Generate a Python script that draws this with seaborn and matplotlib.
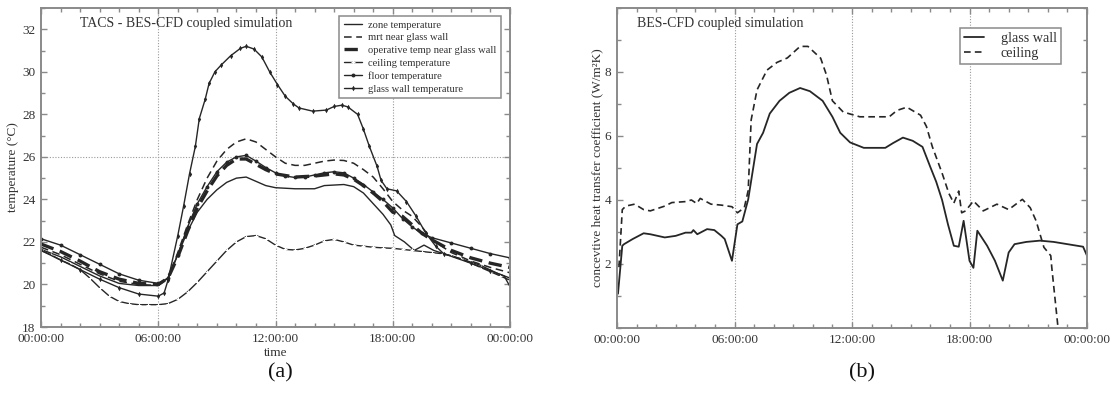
import matplotlib
matplotlib.use("Agg")
import matplotlib.pyplot as plt
import seaborn as sns

# ---- panel (a): temperatures, hours since midnight ----
zone_h = [0, 1, 2, 3, 4, 5, 6, 6.5, 7, 7.5, 8, 8.5, 9, 9.5, 10, 10.5, 11, 11.5, 12, 13, 14,
          14.5, 15.5, 16, 16.5, 17, 17.5, 17.9, 18.1, 18.6, 19.1, 19.6, 20.1, 20.6, 21.5,
          22.5, 23.4, 23.7, 24]
zone_t = [21.65, 21.3, 20.85, 20.4, 20.05, 19.95, 19.95, 20.3, 21.4, 22.5, 23.4, 24.0, 24.45,
          24.8, 25.0, 25.05, 24.85, 24.65, 24.55, 24.5, 24.5, 24.65, 24.7, 24.6, 24.3, 23.8,
          23.3, 22.8, 22.3, 22.0, 21.6, 21.85, 21.6, 21.45, 21.2, 20.9, 20.5, 20.4, 19.9]

mrt_h = [0, 1, 2, 3, 4, 5, 6, 6.5, 7, 7.5, 8, 8.5, 9, 9.5, 10, 10.5, 11, 11.5, 12, 12.5, 13,
         13.5, 14, 14.5, 15, 15.5, 16, 16.5, 17, 17.5, 18, 18.5, 19, 19.5, 20, 21, 22, 23, 24]
mrt_t = [21.75, 21.4, 20.95, 20.5, 20.15, 20.0, 19.95, 20.3, 21.5, 22.8, 24.0, 25.0, 25.8,
         26.35, 26.7, 26.85, 26.7, 26.35, 26.0, 25.7, 25.6, 25.6, 25.7, 25.8, 25.85, 25.83,
         25.7, 25.4, 25.05, 24.5, 23.9, 23.5, 23.2, 22.7, 22.1, 21.5, 21.1, 20.8, 20.55]

oper_h = [0, 1, 2, 3, 4, 5, 6, 6.5, 7, 7.5, 8, 8.5, 9, 9.5, 10, 10.5, 11, 11.5, 12, 13, 14,
          15, 15.5, 16, 16.5, 17, 17.5, 18, 18.5, 19, 19.5, 20, 21, 22, 23, 24]
oper_t = [21.9, 21.55, 21.1, 20.6, 20.25, 20.05, 20.0, 20.3, 21.3, 22.5, 23.6, 24.4, 25.1,
          25.6, 25.9, 25.9, 25.65, 25.4, 25.2, 25.05, 25.1, 25.2, 25.15, 24.95, 24.65, 24.3,
          23.9, 23.4, 23.2, 22.8, 22.4, 22.1, 21.6, 21.25, 21.0, 20.8]

ceil_h = [0, 0.5, 1, 1.5, 2, 2.5, 3, 3.5, 4, 4.5, 5, 5.5, 6, 6.5, 7, 7.5, 8, 8.5, 9, 9.5, 10,
          10.5, 11, 11.5, 12, 12.5, 13, 13.5, 14, 14.5, 15, 15.5, 16, 16.5, 17, 17.5, 18,
          18.5, 19, 19.5, 20, 20.5, 21, 21.5, 22, 22.5, 23, 23.5, 24]
ceil_t = [21.6, 21.4, 21.15, 20.95, 20.7, 20.3, 19.85, 19.45, 19.2, 19.1, 19.05, 19.05,
          19.05, 19.1, 19.3, 19.65, 20.1, 20.6, 21.1, 21.6, 22.0, 22.25, 22.3, 22.15, 21.85,
          21.65, 21.62, 21.7, 21.85, 22.05, 22.12, 22.0, 21.85, 21.8, 21.75, 21.72, 21.7,
          21.65, 21.6, 21.55, 21.5, 21.45, 21.35, 21.2, 21.0, 20.8, 20.6, 20.4, 20.2]

floor_h = [0, 1, 2, 3, 4, 5, 6, 6.5, 7, 7.5, 8, 8.5, 9, 9.5, 10, 10.5, 11, 11.5, 12, 12.5, 13,
           13.5, 14, 14.5, 15, 15.5, 16, 16.5, 17, 17.5, 18, 18.5, 19, 19.5, 20, 21, 22, 23, 24]
floor_t = [22.15, 21.85, 21.4, 20.95, 20.5, 20.2, 20.05, 20.3, 21.4, 22.7, 23.8, 24.6, 25.3,
           25.75, 26.0, 26.07, 25.8, 25.5, 25.25, 25.1, 25.03, 25.05, 25.15, 25.25, 25.3,
           25.25, 25.0, 24.7, 24.35, 24.0, 23.6, 23.1, 22.7, 22.4, 22.2, 21.95, 21.7, 21.45,
           21.25]

glass_h = [0, 1, 2, 3, 4, 5, 6, 6.3, 6.5, 7, 7.3, 7.6, 7.9, 8.1, 8.4, 8.6, 8.9, 9.2, 9.7, 10.2,
           10.5, 10.9, 11.3, 11.7, 12.1, 12.5, 12.9, 13.2, 13.9, 14.6, 15.0, 15.4, 15.7, 16.2,
           16.5, 16.8, 17.2, 17.4, 17.7, 18.2, 18.7, 19.2, 19.7, 20.2, 20.6, 22, 23, 24]
glass_t = [21.6, 21.15, 20.7, 20.25, 19.85, 19.55, 19.45, 19.6, 20.2, 22.3, 23.7, 25.2, 26.5,
           27.8, 28.7, 29.45, 30.0, 30.3, 30.75, 31.1, 31.2, 31.07, 30.7, 30.0, 29.4, 28.85,
           28.5, 28.3, 28.15, 28.2, 28.37, 28.43, 28.35, 28.0, 27.3, 26.5, 25.55, 24.9, 24.5,
           24.4, 23.9, 23.2, 22.4, 21.8, 21.45, 21.0, 20.65, 20.3]

# ---- panel (b): convective heat transfer coefficients ----
hglass_h = [0.05, 0.27, 0.36, 0.8, 1.36, 1.7, 2.44, 3.0, 3.5, 3.8, 3.9, 4.1, 4.6, 4.97, 5.33,
            5.5, 5.87, 6.15, 6.4, 6.7, 7.15, 7.46, 7.8, 8.3, 8.8, 9.35, 9.85, 10.5, 11.0, 11.4,
            11.9, 12.6, 13.7, 14.1, 14.6, 15.1, 15.6, 16.0, 16.3, 16.6, 16.9, 17.2, 17.45,
            17.7, 18.0, 18.2, 18.4, 18.9, 19.3, 19.7, 20.0, 20.3, 20.9, 21.6, 22.3, 23.2,
            23.8, 24.0]
hglass_v = [1.07, 2.57, 2.62, 2.78, 2.96, 2.93, 2.83, 2.88, 2.98, 2.98, 3.06, 2.93, 3.09, 3.06,
            2.88, 2.78, 2.1, 3.24, 3.33, 4.02, 5.75, 6.1, 6.7, 7.1, 7.35, 7.5, 7.4, 7.1, 6.6,
            6.1, 5.8, 5.63, 5.63, 5.78, 5.95, 5.85, 5.66, 5.03, 4.57, 4.0, 3.24, 2.57, 2.54,
            3.35, 2.1, 1.88, 3.04, 2.57, 2.1, 1.48, 2.36, 2.62, 2.69, 2.73, 2.69, 2.6, 2.54,
            2.26]

hceil_h = [0.1, 0.27, 0.45, 0.9, 1.36, 1.7, 2.44, 2.8, 3.5, 3.8, 4.07, 4.25, 4.8, 5.33, 5.87,
           6.15, 6.5, 6.7, 6.85, 7.15, 7.66, 8.17, 8.7, 9.35, 9.75, 10.4, 10.7, 11.0, 11.55,
           12.4, 13.9, 14.3, 14.8, 15.5, 15.8, 16.1, 16.6, 16.95, 17.2, 17.45, 17.6, 17.8,
           18.2, 18.7, 19.4, 20.0, 20.7, 21.1, 21.4, 21.8, 22.15, 22.2, 22.5, 22.55]
hceil_v = [1.9, 3.7, 3.81, 3.87, 3.7, 3.66, 3.81, 3.92, 3.95, 4.0, 3.89, 4.05, 3.87, 3.84,
           3.79, 3.6, 3.76, 4.3, 6.5, 7.44, 8.06, 8.3, 8.44, 8.8, 8.8, 8.43, 7.9, 7.1, 6.75,
           6.6, 6.6, 6.8, 6.9, 6.65, 6.3, 5.67, 4.84, 4.2, 3.9, 4.28, 3.6, 3.66, 3.97, 3.66,
           3.87, 3.7, 4.02, 3.76, 3.35, 2.52, 2.26, 1.9, 0.13, -0.5]

time_ticks = [0, 6, 12, 18, 24]
time_labels = ["00:00:00", "06:00:00", "12:00:00", "18:00:00", "00:00:00"]

sns.set_theme(style="ticks")
plt.rcParams["font.family"] = ["Liberation Serif", "DejaVu Serif"]

INK = "#262626"
FRAME = "#8a8a8a"
TXT = "#333333"

fig = plt.figure(figsize=(11.11, 3.96), dpi=100)
ax_a = fig.add_axes([41 / 1111, 1 - 327 / 396, 469 / 1111, 319 / 396])
ax_b = fig.add_axes([617 / 1111, 1 - 328 / 396, 470 / 1111, 320 / 396])


def style_axes(ax):
    for sp in ax.spines.values():
        sp.set_color(FRAME)
        sp.set_linewidth(1.4)
    ax.set_xlim(0, 24)
    ax.set_xticks(time_ticks)
    ax.set_xticklabels(time_labels)
    ax.set_xticks(range(25), minor=True)
    ax.tick_params(which="both", direction="in", top=True, right=True,
                   color=FRAME, width=1.0, labelsize=9.5, labelcolor=TXT)
    ax.tick_params(which="major", length=4, pad=4)
    ax.tick_params(which="minor", length=3)
    for h in [6, 12, 18]:
        ax.axvline(h, color="#9a9a9a", lw=0.8, ls=(0, (1, 1.5)), zorder=0)


# panel (a)
sns.lineplot(x=zone_h, y=zone_t, ax=ax_a, color=INK, lw=1.0, label="zone temperature")
sns.lineplot(x=mrt_h, y=mrt_t, ax=ax_a, color=INK, lw=1.1, linestyle=(0, (5, 3)),
             label="mrt near glass wall")
sns.lineplot(x=oper_h, y=oper_t, ax=ax_a, color=INK, lw=2.4, linestyle=(0, (4, 2)),
             label="operative temp near glass wall")
sns.lineplot(x=ceil_h, y=ceil_t, ax=ax_a, color=INK, lw=1.0, marker="+", markersize=3.5,
             markeredgewidth=0.8, label="ceiling temperature")
sns.lineplot(x=floor_h, y=floor_t, ax=ax_a, color=INK, lw=1.0, marker="o", markersize=2.8,
             markeredgewidth=0, label="floor temperature")
sns.lineplot(x=glass_h, y=glass_t, ax=ax_a, color=INK, lw=1.0, marker="d", markersize=2.8,
             markeredgewidth=0, label="glass wall temperature")

style_axes(ax_a)
ax_a.set_ylim(18, 33)
ax_a.set_yticks(range(18, 33, 2))
ax_a.set_yticks(range(18, 34), minor=True)
ax_a.axhline(26, color="#9a9a9a", lw=0.8, ls=(0, (1, 1.5)), zorder=0)
ax_a.set_xlabel("time", fontsize=9.5, color=TXT, labelpad=2)
ax_a.set_ylabel("temperature (°C)", fontsize=9.5, color=TXT, labelpad=2)
ax_a.text(0.083, 0.95, "TACS - BES-CFD coupled simulation", transform=ax_a.transAxes,
          fontsize=10, color=TXT, va="center", ha="left")
leg = ax_a.legend(loc="upper right", bbox_to_anchor=(0.981, 0.975), borderaxespad=0,
                  fontsize=7.6, handlelength=1.75, handletextpad=0.6, labelspacing=0.32,
                  borderpad=0.4, fancybox=False, framealpha=1, edgecolor=FRAME)
leg.get_frame().set_linewidth(1.1)
for t in leg.get_texts():
    t.set_color(TXT)

# panel (b)
sns.lineplot(x=hglass_h, y=hglass_v, ax=ax_b, color=INK, lw=1.3, label="glass wall")
sns.lineplot(x=hceil_h, y=hceil_v, ax=ax_b, color=INK, lw=1.2, linestyle=(0, (4, 2.5)),
             label="ceiling")

style_axes(ax_b)
ax_b.set_ylim(0, 10)
ax_b.set_yticks([2, 4, 6, 8])
ax_b.set_yticks(range(11), minor=True)
ax_b.set_xlabel("")
ax_b.set_ylabel("concevtive heat transfer coefficient (W/m²K)", fontsize=9.5, color=TXT,
                labelpad=1)
ax_b.text(0.043, 0.95, "BES-CFD coupled simulation", transform=ax_b.transAxes,
          fontsize=10, color=TXT, va="center", ha="left")
leg_b = ax_b.legend(loc="upper right", bbox_to_anchor=(0.945, 0.9375), borderaxespad=0,
                    fontsize=10.2, handlelength=1.4, handletextpad=1.2, labelspacing=0.12,
                    borderpad=0.3, fancybox=False, framealpha=1, edgecolor=FRAME)
leg_b.get_frame().set_linewidth(1.1)
for t in leg_b.get_texts():
    t.set_color(TXT)

# sub-figure captions
fig.text(280 / 1111, 1 - 373 / 396, "(a)", fontsize=16, color="#111111", ha="center",
         va="center")
fig.text(862 / 1111, 1 - 373 / 396, "(b)", fontsize=16, color="#111111", ha="center",
         va="center")

fig.savefig("out.png", dpi=100)
plt.close(fig)
